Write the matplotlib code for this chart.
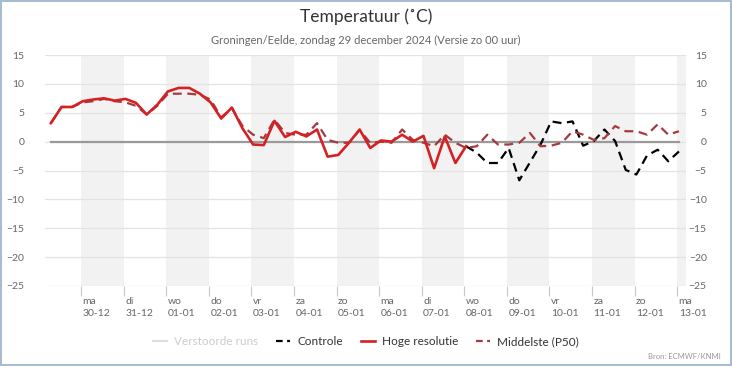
import numpy as np
import matplotlib
matplotlib.use("Agg")
import matplotlib.pyplot as plt
import matplotlib.transforms as mtransforms
from matplotlib.lines import Line2D

plt.rcParams['font.family'] = ['Lato', 'DejaVu Sans']

# ----------------------------------------
# Data (6-hourly, hours after 30-12 00:00)
# ----------------------------------------
start_hour = -17
step_hours = 6

hoge_resolutie = [3.2, 6.0, 6.0, 7.0, 7.3, 7.5, 7.1, 7.4, 6.7, 4.7,
                  6.4, 8.7, 9.3, 9.3, 8.3, 6.8, 4.0, 5.9, 2.3, -0.5,
                  -0.6, 3.6, 0.8, 1.7, 0.9, 2.1, -2.6, -2.3, -0.2, 2.1,
                  -1.1, 0.2, 0.0, 1.2, 0.0, 1.0, -4.6, 0.9, -3.7, -0.8]

middelste = [3.2, 6.0, 6.0, 6.8, 7.0, 7.4, 7.0, 6.8, 6.2, 4.7,
             6.2, 8.3, 8.3, 8.3, 8.1, 7.3, 4.2, 5.8, 2.7, 1.2,
             0.6, 3.8, 1.5, 1.2, 1.2, 3.2, 0.3, -0.2, -0.2, 2.0,
             -0.2, 0.0, -0.2, 2.1, 0.3, -0.2, -0.8, 1.2, -0.2, -1.1,
             -0.8, 1.2, -0.5, -0.5, -0.2, 1.5, -0.8, -0.7, -0.2, 1.8,
             1.2, 0.3, 0.6, 2.7, 1.8, 1.8, 1.2, 3.0, 1.2, 1.8]

controle_start = 39
controle = [-0.8, -1.9, -3.7, -3.7, -1.1, -6.7, -3.6, -0.5, 3.5, 3.2,
            3.5, -0.7, 0.1, 2.1, 0.1, -4.9, -5.7, -2.4, -1.4, -3.4, -1.7]

day_names = ['ma', 'di', 'wo', 'do', 'vr', 'za', 'zo',
             'ma', 'di', 'wo', 'do', 'vr', 'za', 'zo', 'ma']
day_dates = ['30-12', '31-12', '01-01', '02-01', '03-01', '04-01', '05-01',
             '06-01', '07-01', '08-01', '09-01', '10-01', '11-01', '12-01', '13-01']

t_hres = start_hour + step_hours * np.arange(len(hoge_resolutie))
t_p50 = start_hour + step_hours * np.arange(len(middelste))
t_ctrl = start_hour + step_hours * (controle_start + np.arange(len(controle)))
day_hours = 24 * np.arange(len(day_dates))

# ----------------------------------------
# Figure
# ----------------------------------------
fig = plt.figure(figsize=(7.32, 3.66), dpi=100)
fig.patch.set_edgecolor('#a9bccf')
fig.patch.set_linewidth(1.5)
ax = fig.add_axes([0.0615, 0.2186, 0.8755, 0.6311])

x_left, x_right = -20.3, 340.9
ax.set_xlim(x_left, x_right)
ax.set_ylim(-25, 15)

# alternating day shading
for i in range(0, len(day_hours), 2):
    ax.axvspan(day_hours[i], min(day_hours[i] + 24, x_right),
               color='#f2f2f2', lw=0, zorder=0)

ax.set_yticks(np.arange(-25, 16, 5))
ax.yaxis.grid(True, color='#e3e3e3', lw=0.9, zorder=1)
ax.set_axisbelow(True)
for s in ax.spines.values():
    s.set_visible(False)

# zero line over the data period
ax.plot([t_p50[0], t_p50[-1]], [0, 0], color='#9a9a9a', lw=1.6, zorder=2)

ax.plot(t_ctrl, controle, color='black', lw=1.6, ls=(0, (4, 2.5)), zorder=3)
ax.plot(t_p50, middelste, color='#a63a3e', lw=1.6, ls=(0, (4, 2.5)), zorder=4)
ax.plot(t_hres, hoge_resolutie, color='#d42124', lw=1.9, zorder=5)

# axis labels
ax.tick_params(axis='y', length=0, labelsize=7.5, labelcolor='#666666',
               pad=15, labelright=True)
ax.set_xticks(day_hours)
ax.set_xticklabels([f"{d}\n{dt}" for d, dt in zip(day_names, day_dates)])
ax.tick_params(axis='x', length=7, width=0.8, color='#c8c8c8',
               labelsize=7.5, labelcolor='#666666', pad=1)
shift = mtransforms.ScaledTranslation(1.5 / 100, 0, fig.dpi_scale_trans)
for lbl in ax.xaxis.get_majorticklabels():
    lbl.set_horizontalalignment('left')
    lbl.set_multialignment('left')
    lbl.set_linespacing(1.45)
    lbl.set_transform(lbl.get_transform() + shift)
for lbl in ax.get_yticklabels():
    lbl.set_horizontalalignment('right')

fig.text(0.5, 0.953, 'Temperatuur (˚C)', ha='center', va='center',
         fontsize=12.5, color='#333333')
fig.text(0.5, 0.890, 'Groningen/Eelde, zondag 29 december 2024 (Versie zo 00 uur)',
         ha='center', va='center', fontsize=8, color='#666666')

handles = [
    Line2D([], [], color='#dddddd', lw=1.5),
    Line2D([], [], color='black', lw=1.6, ls=(0, (3, 2))),
    Line2D([], [], color='#d42124', lw=1.9),
    Line2D([], [], color='#a63a3e', lw=1.6, ls=(0, (3, 2))),
]
labels = ['Verstoorde runs', 'Controle', 'Hoge resolutie', 'Middelste (P50)']
leg = fig.legend(handles, labels, loc='center', bbox_to_anchor=(0.5, 0.066),
                 ncol=4, frameon=False, fontsize=8.5, handlelength=1.2,
                 handletextpad=0.6, columnspacing=1.5)
for i, txt in enumerate(leg.get_texts()):
    txt.set_color('#cccccc' if i == 0 else '#333333')

fig.text(0.985, 0.027, 'Bron: ECMWF/KNMI', ha='right', va='center',
         fontsize=5.5, color='#999999')

fig.savefig('out.png', dpi=100)
